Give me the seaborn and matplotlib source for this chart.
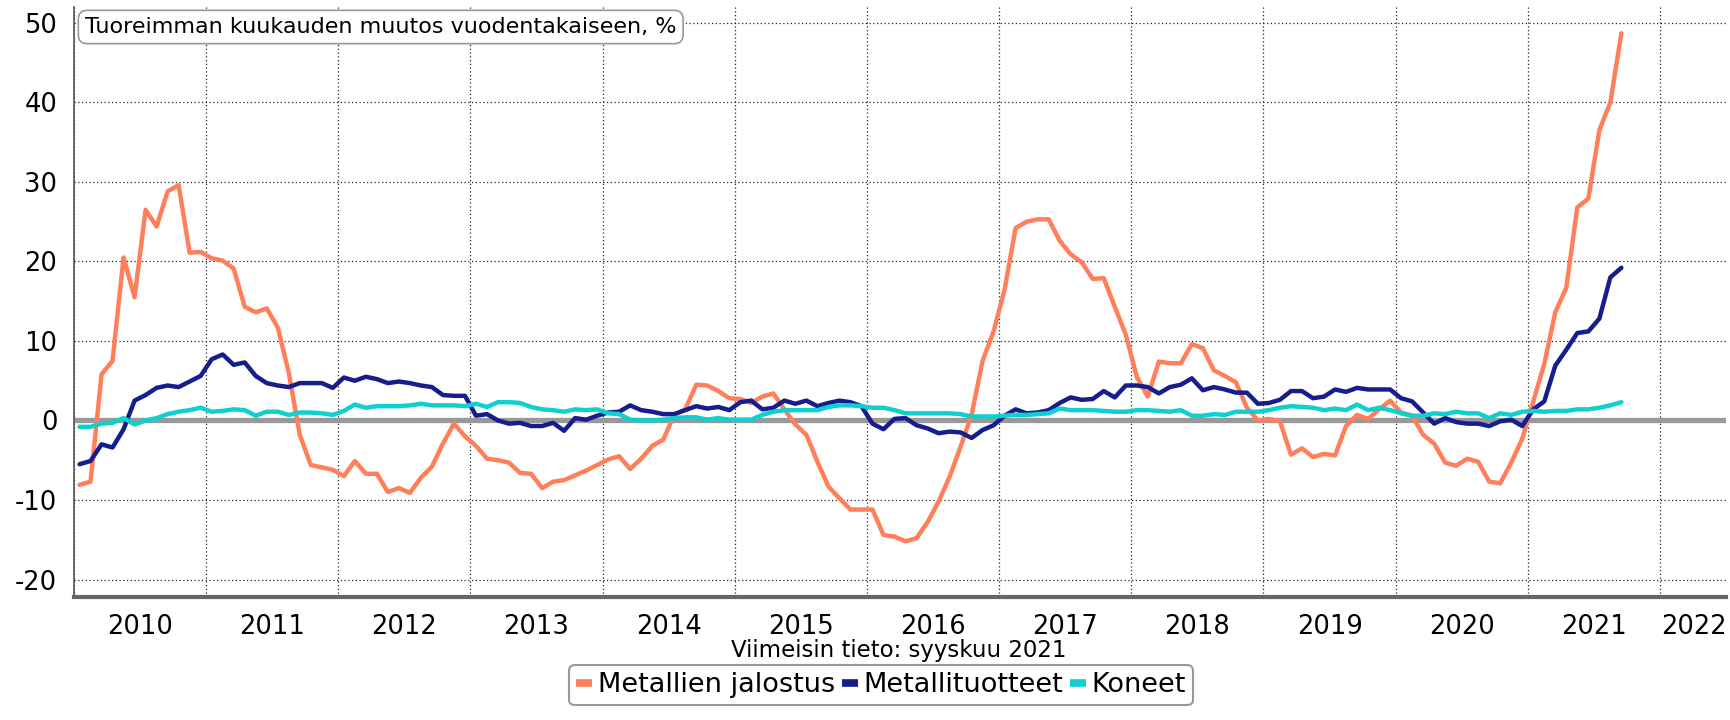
import numpy as np
import pandas as pd
import matplotlib
matplotlib.use("Agg")
import matplotlib.pyplot as plt
from matplotlib.lines import Line2D
import seaborn as sns

# ---------------- data (monthly, Jan 2010 - Sep 2021) ----------------
metallien_jalostus = [
    -8.1, -7.7, 5.8, 7.5, 20.5, 15.5, 26.5, 24.4, 28.8, 29.6, 21.1, 21.2,      # 2010
    20.4, 20.1, 19.1, 14.3, 13.6, 14.1, 11.7, 6.0, -1.8, -5.6, -5.9, -6.2,     # 2011
    -7.0, -5.1, -6.7, -6.7, -9.0, -8.5, -9.1, -7.2, -5.8, -2.9, -0.4, -2.0,    # 2012
    -3.2, -4.8, -5.0, -5.3, -6.6, -6.7, -8.5, -7.7, -7.5, -6.9, -6.3, -5.6,    # 2013
    -4.9, -4.5, -6.1, -4.8, -3.2, -2.4, 0.7, 1.4, 4.5, 4.4, 3.7, 2.8,          # 2014
    2.7, 2.2, 3.0, 3.4, 1.4, -0.5, -1.8, -5.2, -8.3, -9.8, -11.2, -11.2,       # 2015
    -11.2, -14.4, -14.6, -15.2, -14.8, -12.8, -10.2, -7.1, -3.3, 0.7, 7.5, 11.2,  # 2016
    16.5, 24.2, 25.0, 25.3, 25.3, 22.6, 20.9, 19.9, 17.8, 17.9, 14.3, 10.8,    # 2017
    5.5, 3.0, 7.4, 7.2, 7.2, 9.6, 9.1, 6.3, 5.6, 4.8, 1.6, 0.0,                # 2018
    0.2, -0.1, -4.3, -3.5, -4.6, -4.2, -4.4, -0.7, 0.7, 0.2, 1.4, 2.5,         # 2019
    1.0, 0.6, -1.8, -2.9, -5.3, -5.7, -4.8, -5.2, -7.7, -7.9, -5.3, -2.3,      # 2020
    2.4, 7.1, 13.6, 16.7, 26.8, 27.9, 36.5, 40.0, 48.7,                        # 2021
]
metallituotteet = [
    -5.5, -5.1, -3.0, -3.4, -1.1, 2.5, 3.2, 4.1, 4.4, 4.2, 4.9, 5.6,
    7.7, 8.3, 7.0, 7.3, 5.6, 4.7, 4.4, 4.2, 4.7, 4.7, 4.7, 4.1,
    5.4, 5.0, 5.5, 5.2, 4.7, 4.9, 4.7, 4.4, 4.2, 3.2, 3.1, 3.1,
    0.6, 0.8, 0.0, -0.4, -0.3, -0.7, -0.7, -0.3, -1.3, 0.3, 0.1, 0.6,
    1.0, 1.1, 1.9, 1.3, 1.1, 0.8, 0.8, 1.3, 1.8, 1.5, 1.7, 1.3,
    2.3, 2.5, 1.4, 1.6, 2.5, 2.1, 2.5, 1.8, 2.2, 2.5, 2.3, 1.8,
    -0.4, -1.1, 0.2, 0.3, -0.6, -1.0, -1.6, -1.4, -1.5, -2.2, -1.2, -0.6,
    0.6, 1.4, 0.9, 1.0, 1.3, 2.2, 2.9, 2.6, 2.7, 3.7, 2.9, 4.4,
    4.4, 4.2, 3.4, 4.2, 4.5, 5.3, 3.8, 4.2, 3.9, 3.5, 3.5, 2.1,
    2.2, 2.6, 3.7, 3.7, 2.8, 3.0, 3.9, 3.6, 4.1, 3.9, 3.9, 3.9,
    2.8, 2.4, 1.0, -0.4, 0.3, -0.2, -0.4, -0.4, -0.7, -0.1, 0.1, -0.7,
    1.4, 2.4, 6.9, 8.9, 11.0, 11.2, 12.8, 18.0, 19.2,
]
koneet = [
    -0.8, -0.8, -0.4, -0.3, 0.3, -0.5, 0.0, 0.3, 0.8, 1.1, 1.3, 1.6,
    1.1, 1.2, 1.4, 1.3, 0.6, 1.1, 1.1, 0.7, 1.0, 1.0, 0.9, 0.7,
    1.2, 2.0, 1.6, 1.8, 1.8, 1.8, 1.9, 2.1, 1.9, 1.9, 1.9, 1.8,
    2.1, 1.7, 2.3, 2.3, 2.2, 1.7, 1.4, 1.3, 1.1, 1.4, 1.3, 1.4,
    0.9, 0.8, 0.1, 0.0, 0.0, 0.1, 0.3, 0.4, 0.4, 0.1, 0.3, 0.1,
    0.1, 0.1, 0.7, 1.1, 1.3, 1.3, 1.3, 1.3, 1.7, 1.9, 1.9, 1.8,
    1.6, 1.6, 1.3, 0.9, 0.9, 0.9, 0.9, 0.9, 0.8, 0.5, 0.5, 0.5,
    0.6, 0.7, 0.7, 0.8, 0.9, 1.5, 1.3, 1.3, 1.3, 1.2, 1.1, 1.1,
    1.3, 1.3, 1.2, 1.1, 1.3, 0.6, 0.6, 0.8, 0.7, 1.1, 1.1, 1.1,
    1.3, 1.6, 1.8, 1.7, 1.6, 1.3, 1.5, 1.3, 2.0, 1.3, 1.6, 1.3,
    0.9, 0.6, 0.6, 0.9, 0.8, 1.1, 0.9, 0.9, 0.3, 0.9, 0.7, 1.1,
    1.2, 1.1, 1.2, 1.2, 1.4, 1.4, 1.6, 1.9, 2.3,
]
series_names = ["Metallien jalostus", "Metallituotteet", "Koneet"]
colors = ["#FF7F5A", "#161D8C", "#0ED0CF"]
year_labels = [str(y) for y in range(2010, 2023)]
y_ticks = [-20, -10, 0, 10, 20, 30, 40, 50]
title_text = "Tuoreimman kuukauden muutos vuodentakaiseen, %"
caption_text = "Viimeisin tieto: syyskuu 2021"

# ---------------- build frame ----------------
dates = pd.date_range("2010-01-01", "2021-09-01", freq="MS")
xpos = dates.year + (dates.month - 0.5) / 12.0
frames = []
for name, vals in zip(series_names, [metallien_jalostus, metallituotteet, koneet]):
    frames.append(pd.DataFrame({"x": xpos, "value": vals, "series": name}))
df = pd.concat(frames, ignore_index=True)

# ---------------- style ----------------
sns.set_style("white")
plt.rcParams["font.family"] = ["DejaVu Sans"]
plt.rcParams["axes.unicode_minus"] = False
plt.rcParams["text.color"] = "black"
plt.rcParams["xtick.color"] = "black"
plt.rcParams["ytick.color"] = "black"

W, H = 1730, 720
fig = plt.figure(figsize=(W / 100, H / 100), dpi=100)
ax_left, ax_right, ax_top, ax_bottom = 74, 1726, 7, 597
ax = fig.add_axes([ax_left / W, 1 - ax_bottom / H, (ax_right - ax_left) / W,
                   (ax_bottom - ax_top) / H])

ax.axhline(0, color="#999999", lw=3.8, zorder=1.5)
sns.lineplot(data=df, x="x", y="value", hue="series", hue_order=series_names,
             palette=colors, lw=3.2, ax=ax, legend=False, zorder=3)

ax.set_xlim(2010, 2022.5)
ax.set_ylim(-22.2, 52.0)
ax.set_xlabel("")
ax.set_ylabel("")

# grid / ticks
ax.set_yticks(y_ticks)
ax.set_yticklabels([str(t) for t in y_ticks], fontsize=18.5, color="black")
years = list(range(2010, 2023))
ax.set_xticks(years)
ax.set_xticklabels([""] * len(years))
label_pos = [y + 0.5 for y in years[:-1]] + [2022.26]
ax.set_xticks(label_pos, minor=True)
ax.set_xticklabels(year_labels, minor=True, fontsize=18.5, color="black")
ax.tick_params(axis="x", which="minor", length=0, pad=12)
ax.tick_params(axis="x", which="major", length=5, width=1, color="#555555", direction="out")
ax.tick_params(axis="y", which="major", length=5, width=1, color="#555555", pad=7)
ax.grid(True, which="major", linestyle=(0, (1, 2)), color="#222222", lw=0.9)
ax.set_axisbelow(True)

for s in ["top", "right"]:
    ax.spines[s].set_visible(False)
ax.spines["bottom"].set_color("#666666")
ax.spines["bottom"].set_linewidth(3)
ax.spines["left"].set_color("#555555")
ax.spines["left"].set_linewidth(1.2)

# title box
ax.text((85 - ax_left) / (ax_right - ax_left), (ax_bottom - 27) / (ax_bottom - ax_top),
        title_text, transform=ax.transAxes, ha="left", va="center", fontsize=16,
        color="black", zorder=10,
        bbox=dict(boxstyle="round,pad=0.3,rounding_size=0.4", fc="white",
                  ec="#999999", lw=1.2))

# caption
fig.text(899 / W, 1 - 651 / H, caption_text, ha="center", va="center",
         fontsize=16.5, color="black")

# legend
handles = [Line2D([0], [0], color=c, lw=5.5, solid_capstyle="butt") for c in colors]
leg = fig.legend(handles, series_names, loc="lower center",
                 bbox_to_anchor=(881 / W, 0.002), ncol=3, fontsize=19.5,
                 handlelength=0.6, handletextpad=0.2, columnspacing=0.25,
                 borderpad=0.25, fancybox=True, framealpha=1)
leg.get_frame().set_edgecolor("#999999")
leg.get_frame().set_linewidth(1.5)
for t in leg.get_texts():
    t.set_color("black")

fig.savefig("out.png", dpi=100)
